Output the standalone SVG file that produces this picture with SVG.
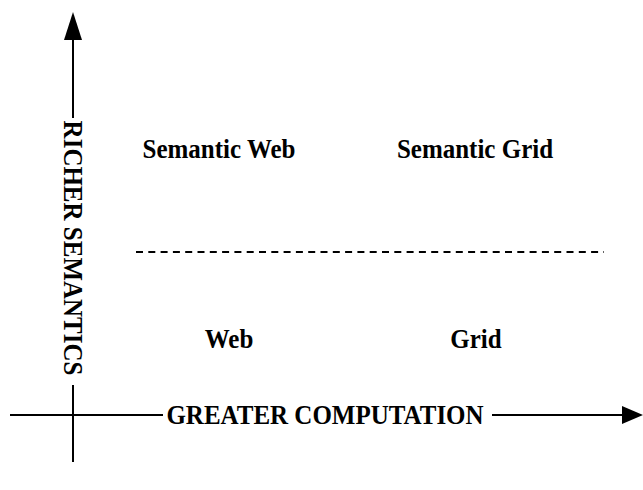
<svg xmlns="http://www.w3.org/2000/svg" width="643" height="490" viewBox="0 0 643 490">
<style>
.lbl{font-family:"Liberation Serif","Times New Roman",serif;font-weight:bold;font-size:25px;fill:#000;text-anchor:middle}
.ax{stroke:#000;stroke-width:2;fill:none}
</style>
<rect width="643" height="490" fill="#fff"/>
<g id="connectors">
<path class="ax" d="M73,40 V118 M73,385 V462"/>
<polygon points="73,12 64,40 82,40" fill="#000"/>
<path class="ax" d="M10,415 H163 M492,415 H622"/>
<polygon points="643,415 622,406 622,424" fill="#000"/>
<line x1="136" y1="252" x2="604" y2="252" stroke="#000" stroke-width="2" stroke-dasharray="7,5.3"/>
</g>
<g id="y-axis-label"><text class="lbl" transform="translate(64,248) rotate(90) scale(1,1.1)">RICHER SEMANTICS</text></g>
<g id="x-axis-label"><text class="lbl" transform="translate(325,424) scale(1,1.1)">GREATER COMPUTATION</text></g>
<g id="semantic-web"><text class="lbl" transform="translate(219,158) scale(1,1.1)">Semantic Web</text></g>
<g id="semantic-grid"><text class="lbl" transform="translate(475,158) scale(1,1.1)">Semantic Grid</text></g>
<g id="web"><text class="lbl" transform="translate(229,348) scale(1,1.1)">Web</text></g>
<g id="grid"><text class="lbl" transform="translate(476,348) scale(1,1.1)">Grid</text></g>
</svg>
